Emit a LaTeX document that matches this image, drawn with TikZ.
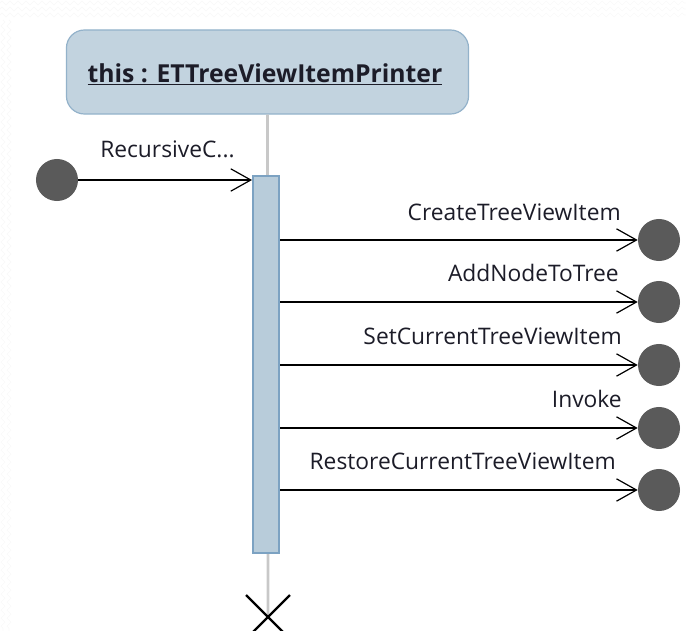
\documentclass[tikz,border=0pt]{standalone}
\usepackage{fontspec}
\setmainfont{Open Sans}
\usetikzlibrary{arrows.meta,decorations.pathmorphing}
\definecolor{objfill}{HTML}{C2D3DF}
\definecolor{objline}{HTML}{93B2CA}
\definecolor{barfill}{HTML}{B8CCDA}
\definecolor{barline}{HTML}{7CA2C2}
\definecolor{dotfill}{HTML}{5A5A5A}
\definecolor{lifegray}{HTML}{C8C8C8}
\definecolor{txtcol}{HTML}{1C1C28}
\tikzset{
  objbox/.style={draw=objline, line width=0.03cm, fill=objfill, rounded corners=0.45cm,
    minimum width=10.05cm, minimum height=2.1cm, inner sep=0pt},
  actbar/.style={draw=barline, line width=0.04cm, fill=barfill,
    minimum width=0.66cm, minimum height=9.42cm, inner sep=0pt},
  enddot/.style={circle, fill=dotfill, minimum size=1.05cm, inner sep=0pt},
  msg/.style={line width=0.03cm, -{Straight Barb[length=0.5cm,width=0.56cm,line width=0.03cm]}},
  msglabel/.style={font=\fontsize{16.2}{18}\selectfont, text=txtcol, inner sep=0pt},
  lifeline/.style={lifegray, line width=0.07cm},
  zig/.style={gray!5, line width=0.02cm, decorate,
    decoration={zigzag, segment length=0.2cm, amplitude=0.05cm}}
}
\begin{document}
\begin{tikzpicture}[x=0.025cm, y=-0.025cm]
% \clip (0,0) rectangle (686,631);
\useasboundingbox (0,0) rectangle (686,631);

% Faint border of the screenshot
\draw [zig] (0,3) -- (686,3);
\draw [zig] (0,9) -- (686,9);
\draw [zig] (0,15) -- (686,15);
\draw [zig] (3,20) -- (3,631);
\draw [zig] (9,20) -- (9,631);

% Lifeline of the object
\coordinate (death) at (268,617);
\node [objbox] (this) at (267.5,72) {};
\draw [lifeline] (this.south) -- (death);
\node [font=\fontsize{17.6}{19}\selectfont\bfseries, text=txtcol, inner sep=0pt, anchor=base]
  (thislbl) at (265,82) {\underline{this : ETTreeViewItemPrinter}};

% Activation bar
\node [actbar] (bar) at (266,364.5) {};

% Destruction mark
\draw [line width=0.06cm] (death) ++(-22,-22) -- ++(44,44);
\draw [line width=0.06cm] (death) ++(22,-22) -- ++(-44,44);

% Found message
\node [enddot] (start) at (57,180) {};
\draw [msg] (start.east) -- (start -| bar.west);
\node [msglabel, anchor=base west] (lstart) at (100,157) {RecursiveC...};

% Outgoing messages
\node [enddot] (end1) at (659,240) {};
\draw [msg] (bar.east |- end1) -- (end1.west);
\node [msglabel, anchor=base east] (l1) at (621,220) {CreateTreeViewItem};

\node [enddot] (end2) at (659,302) {};
\draw [msg] (bar.east |- end2) -- (end2.west);
\node [msglabel, anchor=base east] (l2) at (619,281) {AddNodeToTree};

\node [enddot] (end3) at (659,365) {};
\draw [msg] (bar.east |- end3) -- (end3.west);
\node [msglabel, anchor=base east] (l3) at (622,344) {SetCurrentTreeViewItem};

\node [enddot] (end4) at (659,428) {};
\draw [msg] (bar.east |- end4) -- (end4.west);
\node [msglabel, anchor=base east] (l4) at (622,407) {Invoke};

\node [enddot] (end5) at (659,490) {};
\draw [msg] (bar.east |- end5) -- (end5.west);
\node [msglabel, anchor=base east] (l5) at (616,469) {RestoreCurrentTreeViewItem};
\end{tikzpicture}
\end{document}
